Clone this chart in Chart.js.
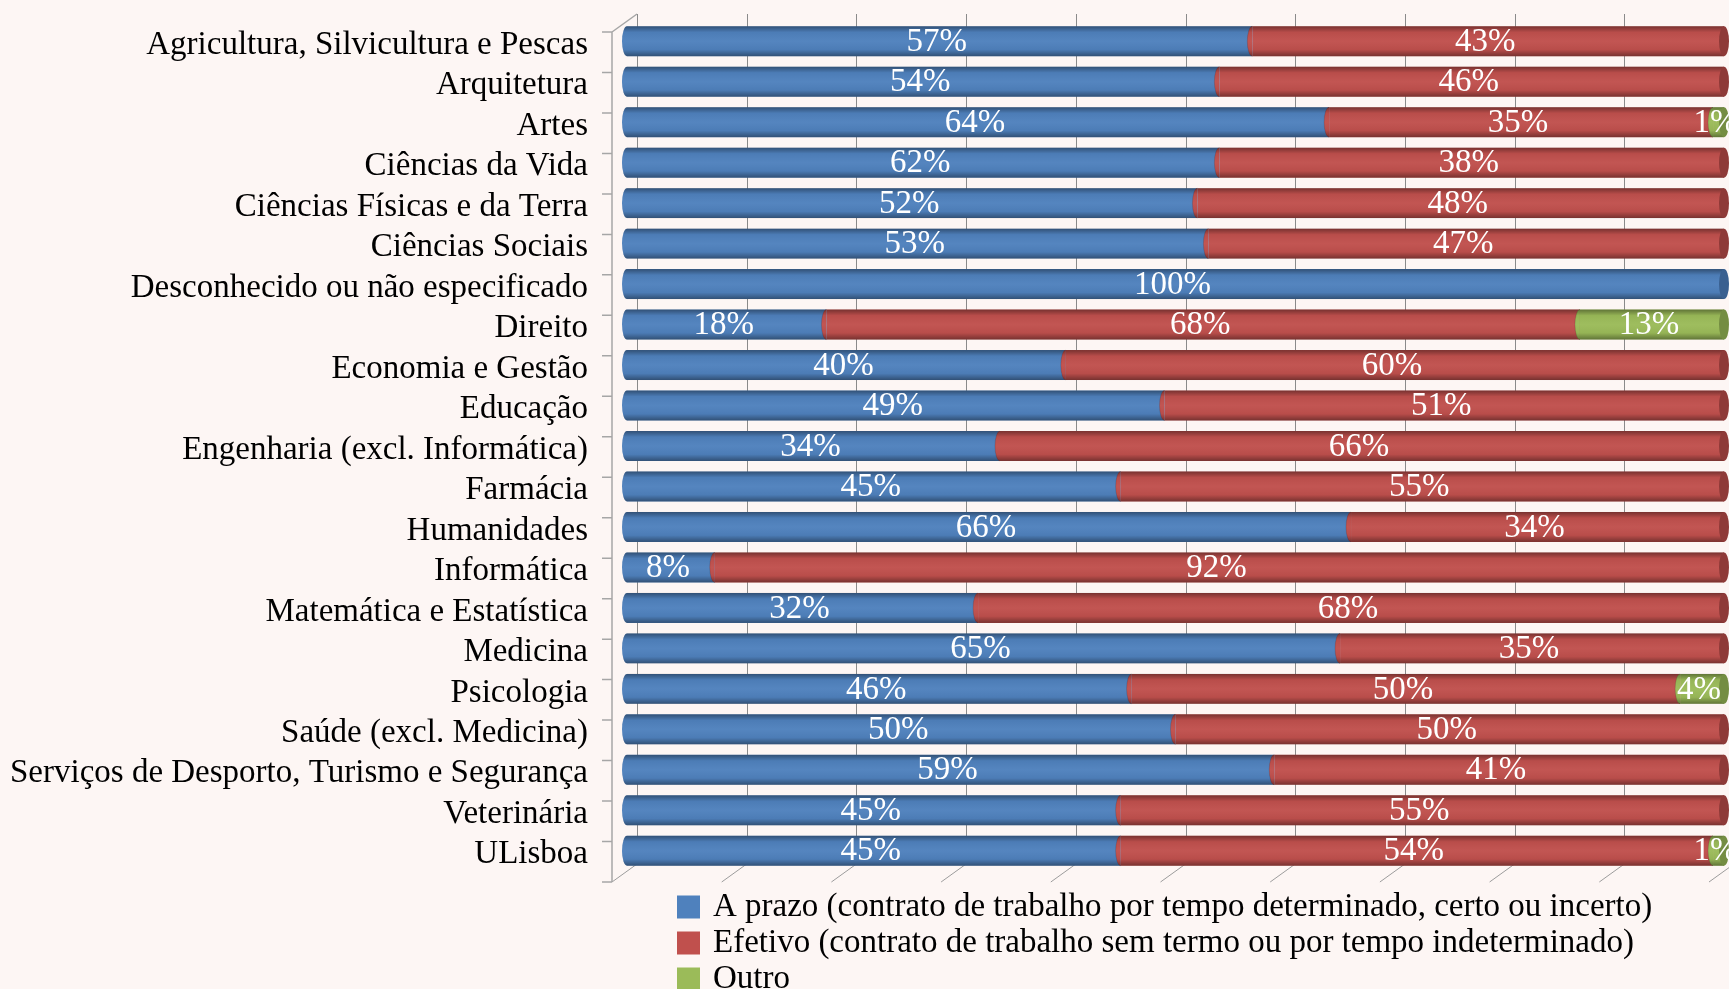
<!DOCTYPE html>
<html>
<head>
<meta charset="utf-8">
<title>Tipo de contrato por área</title>
<script src="https://cdn.jsdelivr.net/npm/chart.js@4.4.1/dist/chart.umd.min.js"></script>
<style>
    html, body { margin: 0; padding: 0; background: #fdf6f4; }
    #chart { display: block; }
</style>
</head>
<body>
<canvas id="chart" width="1729" height="989"></canvas>
<script>
/* ---- data ---- */
const CATEGORIES = [
    'Agricultura, Silvicultura e Pescas',
    'Arquitetura',
    'Artes',
    'Ciências da Vida',
    'Ciências Físicas e da Terra',
    'Ciências Sociais',
    'Desconhecido ou não especificado',
    'Direito',
    'Economia e Gestão',
    'Educação',
    'Engenharia (excl. Informática)',
    'Farmácia',
    'Humanidades',
    'Informática',
    'Matemática e Estatística',
    'Medicina',
    'Psicologia',
    'Saúde (excl. Medicina)',
    'Serviços de Desporto, Turismo e Segurança',
    'Veterinária',
    'ULisboa'
];

const A_PRAZO = [57, 54, 64, 54, 52, 53, 100, 18, 40, 49, 34, 45, 66, 8, 32, 65, 46, 50, 59, 45, 45];
const EFETIVO = [43, 46, 35, 46, 48, 47, 0, 68, 60, 51, 66, 55, 34, 92, 68, 35, 50, 50, 41, 55, 54];
const OUTRO   = [0, 0, 1, 0, 0, 0, 0, 13, 0, 0, 0, 0, 0, 0, 0, 0, 4, 0, 0, 0, 1];

// the Ciências da Vida bar is drawn near 54/46 but the picture labels it 62% / 38%
const SHOWN_LABELS = { 3: [62, 38] };

const SERIES_NAMES = [
    'A prazo (contrato de trabalho por tempo determinado, certo ou incerto)',
    'Efetivo (contrato de trabalho sem termo ou por tempo indeterminado)',
    'Outro'
];

const X_TICKS = [0, 10, 20, 30, 40, 50, 60, 70, 80, 90, 100];

/* ---- look ---- */
const COLORS = ['#4f81bd', '#c0504d', '#9bbb59'];
const CAP_COLORS = ['#3a6090', '#8e3a38', '#748d42'];
const FONT = '"Liberation Serif", "Times New Roman", serif';
const FONT_SIZE = 33;
const DEPTH_X = 25;
const DEPTH_Y = 18;

Chart.defaults.font.family = FONT;
Chart.defaults.font.size = FONT_SIZE;
Chart.defaults.color = '#000000';

// 100% stacked: each row is scaled to its own total, labels keep the read values
const rowTotals = CATEGORIES.map((_, i) => A_PRAZO[i] + EFETIVO[i] + OUTRO[i]);
const toShare = arr => arr.map((v, i) => v / rowTotals[i] * 100);
const RAW = [A_PRAZO, EFETIVO, OUTRO];

// back wall, floor and the left axis of the 3D frame
const frame3d = {
    id: 'frame3d',
    beforeDatasetsDraw(chart) {
        const { ctx, chartArea, scales: { x } } = chart;
        const rowH = (chartArea.bottom - chartArea.top) / CATEGORIES.length;
        const backTop = chartArea.top - 7;
        const backBottom = chartArea.bottom - 7;
        const axisX = chartArea.left - 15;

        ctx.save();
        ctx.lineWidth = 1;

        // grid on the back wall
        ctx.strokeStyle = '#8a8a8a';
        X_TICKS.forEach(v => {
            const xb = Math.round(x.getPixelForValue(v) + 10) + 0.5;
            ctx.beginPath();
            ctx.moveTo(xb, backTop);
            ctx.lineTo(xb, backBottom);
            ctx.stroke();
        });

        // floor depth marks
        ctx.strokeStyle = '#9c9c9c';
        X_TICKS.forEach(v => {
            const xb = x.getPixelForValue(v) + 10;
            ctx.beginPath();
            ctx.moveTo(xb - DEPTH_X, backBottom + DEPTH_Y);
            ctx.lineTo(xb, backBottom);
            ctx.stroke();
        });

        // left axis, its ticks and the top depth edge
        ctx.strokeStyle = '#a6a6a6';
        ctx.lineWidth = 1.5;
        ctx.beginPath();
        ctx.moveTo(axisX, backTop + DEPTH_Y);
        ctx.lineTo(axisX, backBottom + DEPTH_Y);
        ctx.moveTo(axisX, backTop + DEPTH_Y);
        ctx.lineTo(axisX + DEPTH_X, backTop);
        for (let k = 0; k <= CATEGORIES.length; k++) {
            const yy = chartArea.top + 11 + k * rowH;
            ctx.moveTo(axisX - 10, yy);
            ctx.lineTo(axisX, yy);
        }
        ctx.stroke();
        ctx.restore();
    }
};

// shading + elliptical ends so the bars read as cylinders
const cylinders = {
    id: 'cylinders',
    afterDatasetsDraw(chart) {
        const { ctx } = chart;
        const metas = chart.data.datasets.map((_, d) => chart.getDatasetMeta(d));
        const rx = 5;

        const shadeFill = (cy, h) => {
            const g = ctx.createLinearGradient(0, cy - h / 2, 0, cy + h / 2);
            g.addColorStop(0, 'rgba(0,0,0,0.38)');
            g.addColorStop(0.2, 'rgba(0,0,0,0.04)');
            g.addColorStop(0.5, 'rgba(255,255,255,0.03)');
            g.addColorStop(0.78, 'rgba(0,0,0,0.04)');
            g.addColorStop(1, 'rgba(0,0,0,0.38)');
            return g;
        };

        ctx.save();
        CATEGORIES.forEach((_, i) => {
            const segs = [];
            metas.forEach((meta, d) => {
                const el = meta.data[i];
                const p = el.getProps(['x', 'base', 'y', 'height'], true);
                if (p.x - p.base > 0.5) segs.push({ d, ...p });
            });
            segs.forEach((s, k) => {
                const top = s.y - s.height / 2;
                const ry = s.height / 2;
                // body shading
                ctx.fillStyle = shadeFill(s.y, s.height);
                ctx.fillRect(s.base, top, s.x - s.base, s.height);

                // rounded front of each segment, laid over the one before it
                ctx.beginPath();
                ctx.ellipse(s.base, s.y, rx, ry, 0, Math.PI / 2, Math.PI * 1.5);
                ctx.closePath();
                ctx.fillStyle = COLORS[s.d];
                ctx.fill();
                ctx.fillStyle = shadeFill(s.y, s.height);
                ctx.fill();
                if (k > 0) {
                    ctx.strokeStyle = 'rgba(0,0,0,0.12)';
                    ctx.lineWidth = 1;
                    ctx.beginPath();
                    ctx.ellipse(s.base, s.y, rx, ry, 0, Math.PI / 2, Math.PI * 1.5);
                    ctx.stroke();
                }

                // end face of the whole cylinder
                if (k === segs.length - 1) {
                    ctx.beginPath();
                    ctx.ellipse(s.x, s.y, rx, ry, 0, 0, Math.PI * 2);
                    ctx.fillStyle = CAP_COLORS[s.d];
                    ctx.fill();
                }
            });
        });
        ctx.restore();
    }
};

// white percentage labels in the middle of each segment
const valueLabels = {
    id: 'valueLabels',
    afterDatasetsDraw(chart) {
        const { ctx } = chart;
        ctx.save();
        ctx.font = FONT_SIZE + 'px ' + FONT;
        ctx.fillStyle = '#ffffff';
        ctx.textAlign = 'center';
        ctx.textBaseline = 'middle';
        chart.data.datasets.forEach((ds, d) => {
            chart.getDatasetMeta(d).data.forEach((el, i) => {
                const raw = RAW[d][i];
                if (!raw) return;
                const shown = SHOWN_LABELS[i] && SHOWN_LABELS[i][d] !== undefined ? SHOWN_LABELS[i][d] : raw;
                const p = el.getProps(['x', 'base', 'y'], true);
                ctx.fillText(shown + '%', (p.x + p.base) / 2 - 3, p.y + 1);
            });
        });
        ctx.restore();
    }
};

// legend stacked one series per line under the plot
const legendBlock = {
    id: 'legendBlock',
    afterDraw(chart) {
        const { ctx, chartArea } = chart;
        const box = 23;
        const left = chartArea.left + 50;
        ctx.save();
        ctx.font = FONT_SIZE + 'px ' + FONT;
        ctx.textBaseline = 'middle';
        ctx.textAlign = 'left';
        chart.data.datasets.forEach((ds, d) => {
            const cy = chartArea.bottom + 36 + d * 36;
            ctx.fillStyle = ds.backgroundColor;
            ctx.fillRect(left, cy - box / 2, box, box);
            ctx.fillStyle = '#000000';
            ctx.fillText(ds.label, left + box + 13, cy);
        });
        ctx.restore();
    }
};

new Chart(document.getElementById('chart'), {
    type: 'bar',
    data: {
        labels: CATEGORIES,
        datasets: SERIES_NAMES.map((name, d) => ({
            label: name,
            data: toShare(RAW[d]),
            backgroundColor: COLORS[d],
            borderWidth: 0,
            barPercentage: 0.74,
            categoryPercentage: 1
        }))
    },
    options: {
        indexAxis: 'y',
        responsive: false,
        animation: false,
        layout: {
            padding: { top: 21, right: 5, bottom: 118, left: 0 }
        },
        plugins: {
            legend: { display: false },
            tooltip: { enabled: false }
        },
        scales: {
            x: {
                display: false,
                stacked: true,
                min: 0,
                max: 100
            },
            y: {
                stacked: true,
                grid: { display: false, drawTicks: false },
                border: { display: false },
                ticks: {
                    autoSkip: false,
                    padding: 39,
                    labelOffset: 4,
                    color: '#000000',
                    font: { family: FONT, size: FONT_SIZE }
                },
                afterFit(axis) {
                    axis.width = 627;
                    axis.paddingTop = 0;
                    axis.paddingBottom = 0;
                }
            }
        }
    },
    plugins: [frame3d, cylinders, valueLabels, legendBlock]
});
</script>
</body>
</html>
